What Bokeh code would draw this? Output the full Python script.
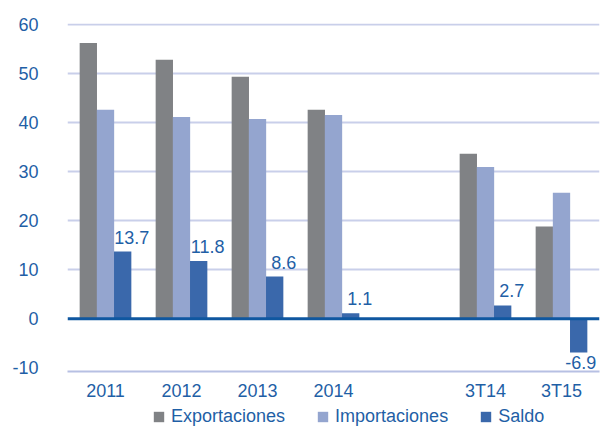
from bokeh.plotting import figure
from bokeh.layouts import column
from bokeh.models import FactorRange, Range1d, ColumnDataSource, FixedTicker, Span, Legend, LegendItem, LabelSet
from bokeh.transform import dodge
from bokeh.core.properties import value
from bokeh.embed import file_html
from bokeh.resources import INLINE

categories = ["2011", "2012", "2013", "2014", " ", "3T14", "3T15"]
exportaciones = [56.3, 52.9, 49.4, 42.7, None, 33.7, 18.8]
importaciones = [42.7, 41.2, 40.8, 41.6, None, 31.0, 25.7]
saldo = [13.7, 11.8, 8.6, 1.1, None, 2.7, -6.9]
saldo_labels = ["13.7", "11.8", "8.6", "1.1", "", "2.7", "-6.9"]
series_names = ["Exportaciones", "Importaciones", "Saldo"]
y_ticks = [-10, 0, 10, 20, 30, 40, 50, 60]

def clean(v):
    return [0 if x is None else x for x in v]

src = ColumnDataSource(dict(
    cat=categories,
    exp=clean(exportaciones),
    imp=clean(importaciones),
    sal=clean(saldo),
))

pos_idx = [i for i, s in enumerate(saldo) if s is not None and s >= 0]
neg_idx = [i for i, s in enumerate(saldo) if s is not None and s < 0]
lab_pos = ColumnDataSource(dict(cat=[categories[i] for i in pos_idx],
                                y=[saldo[i] for i in pos_idx],
                                t=[saldo_labels[i] for i in pos_idx]))
lab_neg = ColumnDataSource(dict(cat=[categories[i] for i in neg_idx],
                                y=[saldo[i] for i in neg_idx],
                                t=[saldo_labels[i] for i in neg_idx]))

BLUE_TXT = "#1F5FA6"
FONT = "Liberation Sans"
FS = "18px"
COLORS = ["#808285", "#94A5CF", "#3A68AB"]

p = figure(frame_width=532, frame_height=348, x_range=FactorRange(*categories),
           y_range=Range1d(-10.8, 60.3), output_backend="svg",
           toolbar_location=None, min_border_left=67, min_border_right=4,
           min_border_top=23, min_border_bottom=29)
p.outline_line_color = None
p.background_fill_color = "white"
p.border_fill_color = "white"

bw = 0.228
p.vbar(x=dodge("cat", -0.226, range=p.x_range), top="exp", width=bw, source=src,
       fill_color=COLORS[0], line_color=None)
p.vbar(x=dodge("cat", 0.0, range=p.x_range), top="imp", width=bw, source=src,
       fill_color=COLORS[1], line_color=None)
p.vbar(x=dodge("cat", 0.226, range=p.x_range), top="sal", width=bw, source=src,
       fill_color=COLORS[2], line_color=None)

p.add_layout(Span(location=0, dimension="width", line_color="#0F57A0", line_width=3))

p.add_layout(LabelSet(x=dodge("cat", 0.226, range=p.x_range), y="y", text="t", source=lab_pos,
                      x_offset=9, y_offset=8, text_align="center", text_baseline="bottom",
                      text_color=BLUE_TXT, text_font=value(FONT), text_font_size=FS))
p.add_layout(LabelSet(x=dodge("cat", 0.226, range=p.x_range), y="y", text="t", source=lab_neg,
                      x_offset=2, y_offset=-4, text_align="center", text_baseline="top",
                      text_color=BLUE_TXT, text_font=value(FONT), text_font_size=FS))

p.xgrid.grid_line_color = None
p.ygrid.ticker = FixedTicker(ticks=[10, 20, 30, 40, 50, 60])
p.ygrid.grid_line_color = "#C9CFEA"
p.ygrid.grid_line_width = 2

p.yaxis.ticker = FixedTicker(ticks=y_ticks)
p.yaxis.major_label_overrides = {t: str(t) for t in y_ticks}
p.yaxis.axis_line_color = None
p.yaxis.major_tick_line_color = None
p.yaxis.minor_tick_line_color = None
p.yaxis.major_label_standoff = 23
p.yaxis.major_label_text_color = BLUE_TXT
p.yaxis.major_label_text_font = FONT
p.yaxis.major_label_text_font_size = FS

p.xaxis.axis_line_color = "#B7C0E3"
p.xaxis.axis_line_width = 2
p.xaxis.major_tick_line_color = None
p.xaxis.minor_tick_line_color = None
p.xaxis.major_label_standoff = 3
p.xaxis.major_label_text_color = BLUE_TXT
p.xaxis.major_label_text_font = FONT
p.xaxis.major_label_text_font_size = FS

# legend strip below the chart (zero-height proxy bars provide the swatches)
lg = figure(width=603, height=31, x_range=Range1d(0, 1), y_range=Range1d(0, 1),
            output_backend="svg", toolbar_location=None,
            x_axis_location=None, y_axis_location=None,
            min_border_left=0, min_border_right=0, min_border_top=0, min_border_bottom=0)
lg.outline_line_color = None
lg.background_fill_color = "white"
lg.border_fill_color = "white"
lg.xgrid.grid_line_color = None
lg.ygrid.grid_line_color = None
items = []
for name, col in zip(series_names, COLORS):
    r = lg.vbar(x=[0.5], top=[0], bottom=[0], width=0.001, fill_color=col, line_color=None)
    items.append(LegendItem(label=name, renderers=[r]))
legend = Legend(items=items, orientation="horizontal", location=(85, 7),
                label_text_color=BLUE_TXT, label_text_font=FONT, label_text_font_size=FS,
                glyph_width=13, glyph_height=13, label_standoff=6, spacing=31,
                label_height=18, border_line_color=None, background_fill_color=None,
                padding=0, margin=0)
lg.add_layout(legend, "center")

open("out.html", "w").write(file_html(column(p, lg, spacing=0), INLINE))
